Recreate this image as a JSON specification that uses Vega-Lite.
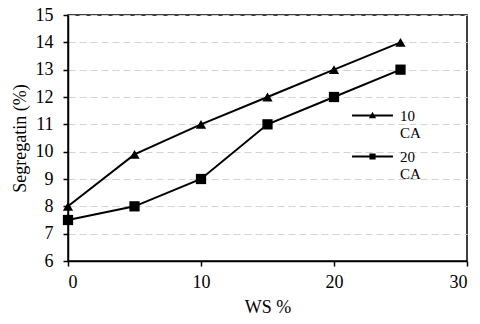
{
  "$schema": "https://vega.github.io/schema/vega-lite/v6.json",
  "width": 399,
  "height": 246,
  "autosize": "none",
  "padding": {"left": 68, "top": 15, "right": 13, "bottom": 63},
  "background": "white",
  "config": {
    "view": {"stroke": "black", "strokeWidth": 1.5},
    "font": "Liberation Serif",
    "axis": {
      "labelFont": "Liberation Serif",
      "labelFontSize": 18,
      "labelColor": "black",
      "titleFont": "Liberation Serif",
      "titleFontSize": 18,
      "titleFontWeight": "normal",
      "titleColor": "black",
      "domainColor": "black",
      "domainWidth": 1.5,
      "tickColor": "black",
      "tickWidth": 1.5,
      "tickSize": 5
    }
  },
  "data": {
    "values": [
      {"ws": 0, "seg": 8, "series": "10 CA"},
      {"ws": 5, "seg": 9.9, "series": "10 CA"},
      {"ws": 10, "seg": 11, "series": "10 CA"},
      {"ws": 15, "seg": 12, "series": "10 CA"},
      {"ws": 20, "seg": 13, "series": "10 CA"},
      {"ws": 25, "seg": 14, "series": "10 CA"},
      {"ws": 0, "seg": 7.5, "series": "20 CA"},
      {"ws": 5, "seg": 8, "series": "20 CA"},
      {"ws": 10, "seg": 9, "series": "20 CA"},
      {"ws": 15, "seg": 11, "series": "20 CA"},
      {"ws": 20, "seg": 12, "series": "20 CA"},
      {"ws": 25, "seg": 13, "series": "20 CA"}
    ]
  },
  "encoding": {
    "x": {
      "field": "ws",
      "type": "quantitative",
      "scale": {"domain": [0, 30], "nice": false},
      "axis": {
        "title": "WS %",
        "values": [0, 10, 20, 30],
        "grid": false,
        "labelPadding": 7,
        "titlePadding": 7
      }
    },
    "y": {
      "field": "seg",
      "type": "quantitative",
      "scale": {"domain": [6, 15], "nice": false, "zero": false},
      "axis": {
        "title": "Segregatin (%)",
        "values": [6, 7, 8, 9, 10, 11, 12, 13, 14, 15],
        "grid": true,
        "gridColor": "#d3d3d3",
        "gridDash": [7, 4],
        "gridWidth": 1,
        "labelPadding": 10,
        "titlePadding": 6
      }
    }
  },
  "layer": [
    {
      "mark": {"type": "line", "color": "black", "strokeWidth": 2},
      "encoding": {"detail": {"field": "series"}}
    },
    {
      "mark": {"type": "point", "filled": true, "opacity": 1, "color": "black"},
      "encoding": {
        "shape": {
          "field": "series",
          "type": "nominal",
          "scale": {"domain": ["10 CA", "20 CA"], "range": ["triangle-up", "square"]},
          "legend": null
        },
        "size": {"value": 105}
      }
    },
    {
      "mark": {"type": "point", "filled": true, "fill": "black", "stroke": "black", "strokeWidth": 0},
      "encoding": {
        "shape": {
          "field": "series",
          "type": "nominal",
          "scale": {
            "domain": ["10 CA", "20 CA"],
            "range": ["M-1.32,-0.065H1.32V0.065H-1.32ZM0,-0.25L0.23,0.18H-0.23Z", "M-1.32,-0.065H1.32V0.065H-1.32ZM-0.2,-0.2H0.2V0.2H-0.2Z"]
          },
          "legend": {
            "title": null,
            "orient": "none",
            "legendX": 289,
            "legendY": 85,
            "padding": 0,
            "symbolSize": 961,
            "symbolStrokeWidth": 0,
            "symbolFillColor": "black",
            "symbolOpacity": 1,
            "labelFont": "Liberation Serif",
            "labelFontSize": 15,
            "labelColor": "black",
            "labelLineHeight": 18,
            "labelBaseline": "middle",
            "labelOffset": 12,
            "rowPadding": 0,
            "labelExpr": "split(datum.label, ' ')"
          }
        },
        "size": {"value": 0}
      }
    }
  ],
  "resolve": {"scale": {"shape": "independent"}, "legend": {"shape": "independent"}}
}
